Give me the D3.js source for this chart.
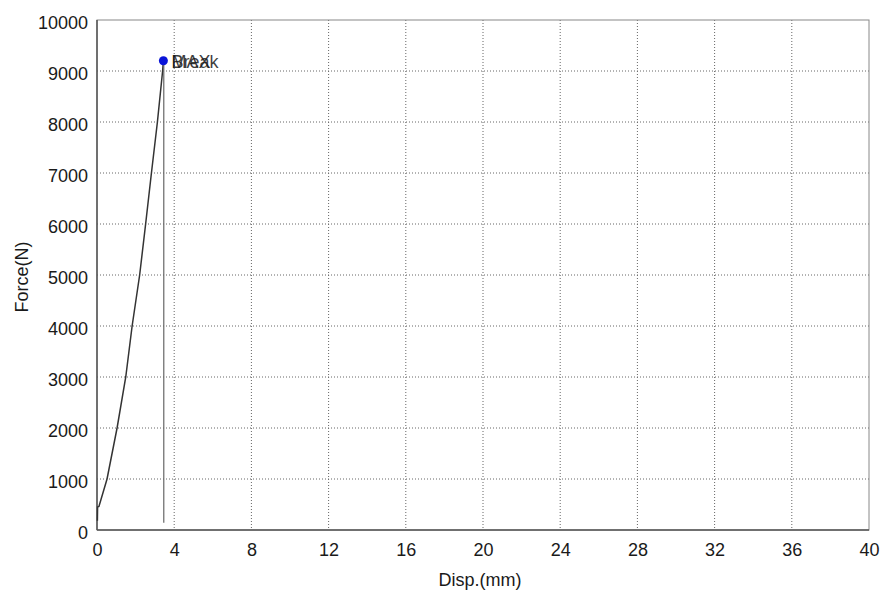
<!DOCTYPE html>
<html>
<head>
<meta charset="utf-8">
<script src="https://cdn.jsdelivr.net/npm/d3@7"></script>
<style>
  body { margin: 0; background: #fff; }
  text { font-family: "Liberation Sans", Arial, sans-serif; fill: #1a1a1a; }
</style>
</head>
<body>
<div id="chart"></div>
<script>
// Curve data
const disp  = [0.02, 0.03, 0.10, 0.52, 1.04, 1.49, 1.82, 2.21, 2.52, 2.82, 3.13, 3.40, 3.44];
const force = [180, 450, 460, 1000, 2000, 3000, 4000, 5000, 6000, 7000, 8000, 9000, 9200];
// Drop after break
const dropDisp  = [3.46, 3.46];
const dropForce = [9200, 140];
// Marker and labels
const peak = { disp: 3.44, force: 9200 };
const peakLabels = ["MAX", "Break"];

const xTicks = [0, 4, 8, 12, 16, 20, 24, 28, 32, 36, 40];
const yTicks = [0, 1000, 2000, 3000, 4000, 5000, 6000, 7000, 8000, 9000, 10000];

const W = 885, H = 606;
const margin = { top: 20, right: 16, bottom: 76, left: 97 };
const width = W - margin.left - margin.right,
      height = H - margin.top - margin.bottom;

const svg = d3.select("#chart").append("svg")
    .attr("width", W)
    .attr("height", H);

const g = svg.append("g")
    .attr("transform", `translate(${margin.left}, ${margin.top})`);

const x = d3.scaleLinear().domain([0, 40]).range([0, width]);
const y = d3.scaleLinear().domain([0, 10000]).range([height, 0]);

// dotted grid
g.append("g").selectAll("line").data(xTicks.slice(1, -1)).enter().append("line")
    .attr("x1", d => x(d)).attr("x2", d => x(d))
    .attr("y1", 0).attr("y2", height)
    .attr("stroke", "#666").attr("stroke-width", 1).attr("stroke-dasharray", "1,2");
g.append("g").selectAll("line").data(yTicks.slice(1, -1)).enter().append("line")
    .attr("x1", 0).attr("x2", width)
    .attr("y1", d => y(d)).attr("y2", d => y(d))
    .attr("stroke", "#666").attr("stroke-width", 1).attr("stroke-dasharray", "1,2");

// frame
g.append("rect")
    .attr("width", width).attr("height", height)
    .attr("fill", "none").attr("stroke", "#888").attr("stroke-width", 1);
g.append("line").attr("x1", 0).attr("x2", 0).attr("y1", 0).attr("y2", height)
    .attr("stroke", "#555").attr("stroke-width", 1.5);
g.append("line").attr("x1", 0).attr("x2", width).attr("y1", height).attr("y2", height)
    .attr("stroke", "#555").attr("stroke-width", 1.5);

// axes (labels only)
const xAxis = g.append("g")
    .attr("transform", `translate(0, ${height})`)
    .call(d3.axisBottom(x).tickValues(xTicks).tickSize(0).tickPadding(13));
xAxis.select(".domain").remove();
xAxis.selectAll("text").style("font-size", "18px").attr("fill", "#1a1a1a");

const yAxis = g.append("g")
    .call(d3.axisLeft(y).tickValues(yTicks).tickSize(0).tickPadding(9).tickFormat(d3.format("d")));
yAxis.select(".domain").remove();
yAxis.selectAll("text").style("font-size", "18px").attr("fill", "#1a1a1a")
    .attr("dy", "0.45em");

// axis titles
svg.append("text")
    .attr("x", margin.left + width / 2 - 3).attr("y", 586)
    .attr("text-anchor", "middle").style("font-size", "18px")
    .text("Disp.(mm)");
svg.append("text")
    .attr("transform", `translate(28, ${margin.top + height / 2 + 2}) rotate(-90)`)
    .attr("text-anchor", "middle").style("font-size", "18px")
    .text("Force(N)");

// curve
const line = d3.line().x(d => x(d[0])).y(d => y(d[1]));
g.append("path")
    .datum(d3.zip(disp, force))
    .attr("d", line)
    .attr("fill", "none").attr("stroke", "#333").attr("stroke-width", 1.5);
g.append("path")
    .datum([[peak.disp, peak.force], [dropDisp[0], dropForce[0]]])
    .attr("d", line)
    .attr("fill", "none").attr("stroke", "#555").attr("stroke-width", 1);
g.append("path")
    .datum(d3.zip(dropDisp, dropForce))
    .attr("d", line)
    .attr("fill", "none").attr("stroke", "#666").attr("stroke-width", 1.2);

// peak marker
g.append("circle")
    .attr("cx", x(peak.disp)).attr("cy", y(peak.force))
    .attr("r", 4.5).attr("fill", "#0a14d8");

// the two labels sit on top of each other, as in the source chart
g.selectAll(".plabel").data(peakLabels).enter().append("text")
    .attr("class", "plabel")
    .attr("x", x(peak.disp) + 8).attr("y", y(peak.force) + 7)
    .style("font-size", "18px")
    .attr("fill", "#333")
    .attr("fill-opacity", 0.85)
    .text(d => d);
</script>
</body>
</html>
